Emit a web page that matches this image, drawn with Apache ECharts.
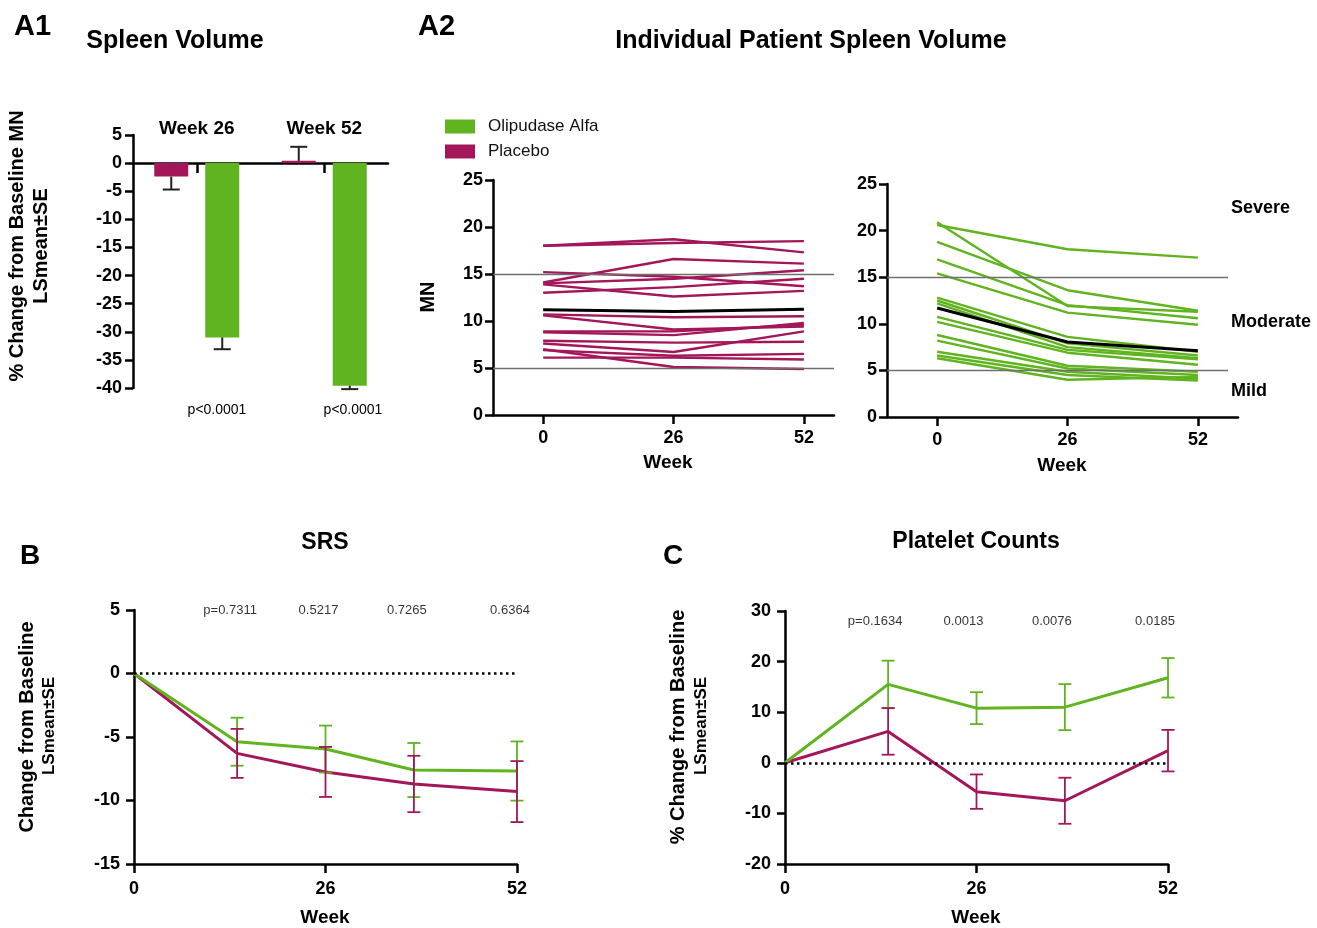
<!DOCTYPE html>
<html><head><meta charset="utf-8">
<script src="https://cdn.jsdelivr.net/npm/echarts@6/dist/echarts.min.js"></script>
<style>html,body{margin:0;padding:0;background:#fff}#c{width:1317px;height:928px}</style>
</head><body><div id="c"></div>
<script>
const FONT = "'Liberation Sans', Arial, Helvetica, sans-serif";
const GREEN = '#5FB41F', PLAC = '#A3175A';

// ---- A1: Spleen volume % change (LSmean, SE) ----
const a1Categories = ['Week 26', 'Week 52'];
const a1Placebo = [-2.4, 0.4];
const a1PlaceboSE = [2.3, 2.5];
const a1Olipudase = [-31.0, -39.6];
const a1OlipudaseSE = [2.1, 0.6];
const a1PValues = ['p<0.0001', 'p<0.0001'];

// ---- A2: individual patient spleen volume (MN) ----
const mnWeeks = [0, 26, 52];
const mnPlacebo = [
  [18.0, 18.7, 17.3],
  [18.0, 18.3, 18.5],
  [14.1, 16.6, 16.1],
  [15.2, 14.7, 13.7],
  [14.0, 14.5, 15.4],
  [13.9, 12.6, 13.2],
  [13.0, 13.6, 14.5],
  [10.7, 10.4, 10.5],
  [10.6, 9.1, 9.4],
  [8.9, 8.9, 9.6],
  [8.8, 8.5, 9.8],
  [7.9, 7.7, 7.8],
  [7.6, 6.7, 8.9],
  [7.0, 5.1, 4.9],
  [6.9, 6.3, 6.5],
  [6.1, 6.1, 5.9]
];
const mnPlaceboMean = [11.2, 11.0, 11.25];
const mnOlipudase = [
  [20.6, 18.0, 17.1],
  [20.9, 11.9, 11.3],
  [18.8, 13.6, 11.4],
  [16.9, 12.0, 10.6],
  [15.4, 11.2, 9.9],
  [12.8, 8.6, 7.0],
  [12.5, 7.9, 6.6],
  [12.2, 7.5, 6.3],
  [10.75, 7.2, 6.2],
  [10.2, 6.9, 5.6],
  [8.8, 5.5, 4.85],
  [8.2, 5.2, 4.5],
  [7.0, 4.85, 4.1],
  [6.6, 4.5, 3.9],
  [6.3, 4.0, 4.3]
];
const mnOlipudaseMean = [11.7, 8.05, 7.1];
const mnThresholds = [5, 15];
const mnSeverity = ['Severe', 'Moderate', 'Mild'];

// ---- B: SRS ----
const visitWeeks = [0, 14, 26, 38, 52];
const srsOlipudase = [0, -5.37, -5.95, -7.6, -7.68];
const srsOlipudaseSE = [0, 1.89, 1.85, 2.13, 2.33];
const srsPlacebo = [0, -6.29, -7.75, -8.7, -9.3];
const srsPlaceboSE = [0, 1.93, 1.97, 2.22, 2.4];
const srsP = ['', 'p=0.7311', '0.5217', '0.7265', '0.6364'];

// ---- C: Platelet counts ----
const pltOlipudase = [0, 15.5, 10.8, 11.0, 16.8];
const pltOlipudaseSE = [0, 4.68, 3.15, 4.55, 3.9];
const pltPlacebo = [0, 6.2, -5.7, -7.5, 2.4];
const pltPlaceboSE = [0, 4.6, 3.4, 4.55, 4.1];
const pltP = ['', 'p=0.1634', '0.0013', '0.0076', '0.0185'];

// ---------- helpers ----------
const AX = {color: '#000', width: 2.5};
function yAx(grid, min, max, interval, margin) {
  return {
    type: 'value', gridIndex: grid, min, max, interval,
    axisLine: {show: true, onZero: false, lineStyle: AX},
    axisTick: {show: true, length: 8, lineStyle: AX},
    axisLabel: {color: '#000', fontWeight: 'bold', fontSize: 18, fontFamily: FONT, margin: margin},
    splitLine: {show: false}
  };
}
function xVal(grid, min, max, ticks) {
  return {
    type: 'value', gridIndex: grid, min, max,
    axisLine: {show: true, onZero: false, lineStyle: AX},
    axisTick: {show: true, length: 9, lineStyle: AX, customValues: ticks},
    axisLabel: {color: '#000', fontWeight: 'bold', fontSize: 18, fontFamily: FONT, margin: 14, customValues: ticks},
    splitLine: {show: false}
  };
}
function errSeries(xi, yi, pts, color, capW, lw, dx, away) {
  return {
    type: 'custom', xAxisIndex: xi, yAxisIndex: yi, silent: true, z: 5, clip: false,
    data: pts,
    renderItem(params, api) {
      const x = api.value(0), m = api.value(1), se = api.value(2);
      const a = away ? m : m - se;
      const b = away ? m + (m < 0 ? -se : se) : m + se;
      const p1 = api.coord([x, a]), p2 = api.coord([x, b]);
      const cx = p1[0] + dx;
      const st = {stroke: color, lineWidth: lw};
      const ch = [{type: 'line', shape: {x1: cx, y1: p1[1], x2: cx, y2: p2[1]}, style: st}];
      ch.push({type: 'line', shape: {x1: cx - capW / 2, y1: p2[1], x2: cx + capW / 2, y2: p2[1]}, style: st});
      if (!away) ch.push({type: 'line', shape: {x1: cx - capW / 2, y1: p1[1], x2: cx + capW / 2, y2: p1[1]}, style: st});
      return {type: 'group', children: ch};
    }
  };
}
function T(text, x, y, size, opt) {
  opt = opt || {};
  const al = opt.align || 'center';
  return {
    type: 'text', x, y, rotation: opt.rot ? Math.PI / 2 : 0, silent: true, z: 10,
    style: {text, fill: '#000', font: (opt.normal ? 'normal ' : 'bold ') + size + 'px ' + FONT,
      textAlign: al, textVerticalAlign: 'middle', align: al, verticalAlign: 'middle'}
  };
}
const pairs = (xs, ys) => xs.map((x, i) => [x, ys[i]]);

// ---------- series ----------
const series = [];
// A1 bars
series.push({type: 'bar', name: 'Placebo', xAxisIndex: 0, yAxisIndex: 0, data: a1Placebo,
  barWidth: 34, barGap: '50%', itemStyle: {color: PLAC}, color: PLAC, silent: true});
series.push({type: 'bar', name: 'Olipudase Alfa', xAxisIndex: 0, yAxisIndex: 0, data: a1Olipudase,
  barWidth: 34, barGap: '50%', itemStyle: {color: GREEN}, color: GREEN, silent: true});
series.push(errSeries(0, 0, a1Categories.map((c, i) => [c, a1Placebo[i], a1PlaceboSE[i]]), '#222', 17, 2, -25.5, true));
series.push(errSeries(0, 0, a1Categories.map((c, i) => [c, a1Olipudase[i], a1OlipudaseSE[i]]), '#222', 17, 2, 25.5, true));

// A2 threshold lines
function thresholdLines(xi, yi, xMin, xMax) {
  return {type: 'line', xAxisIndex: xi, yAxisIndex: yi, data: [], silent: true,
    markLine: {silent: true, symbol: 'none', label: {show: false}, animation: false,
      lineStyle: {color: '#6f6f6f', width: 1.3, type: 'solid'},
      data: mnThresholds.map(t => [{coord: [xMin, t]}, {coord: [xMax, t]}])}};
}
series.push(thresholdLines(2, 1, -10, 58));
series.push(thresholdLines(3, 2, -10, 58));
mnPlacebo.forEach(p => series.push({type: 'line', name: 'Placebo', xAxisIndex: 2, yAxisIndex: 1,
  data: pairs(mnWeeks, p), symbol: 'none', color: PLAC, lineStyle: {color: PLAC, width: 2.4}, silent: true, z: 3}));
series.push({type: 'line', name: 'Mean placebo', xAxisIndex: 2, yAxisIndex: 1, data: pairs(mnWeeks, mnPlaceboMean),
  symbol: 'none', lineStyle: {color: '#000', width: 3}, silent: true, z: 4});
mnOlipudase.forEach(p => series.push({type: 'line', name: 'Olipudase Alfa', xAxisIndex: 3, yAxisIndex: 2,
  data: pairs(mnWeeks, p), symbol: 'none', color: GREEN, lineStyle: {color: GREEN, width: 2.4}, silent: true, z: 3}));
series.push({type: 'line', name: 'Mean olipudase', xAxisIndex: 3, yAxisIndex: 2, data: pairs(mnWeeks, mnOlipudaseMean),
  symbol: 'none', lineStyle: {color: '#000', width: 3}, silent: true, z: 4});

// B and C
function trendPanel(xi, yi, olip, olipSE, plac, placSE, pv, yTop, pOffset) {
  series.push({type: 'line', name: 'Placebo', xAxisIndex: xi, yAxisIndex: yi, data: pairs(visitWeeks, plac),
    symbol: 'none', color: PLAC, lineStyle: {color: PLAC, width: 3}, silent: true, z: 3,
    markLine: {silent: true, symbol: 'none', label: {show: false}, animation: false,
      lineStyle: {color: '#000', width: 2.5, type: [2.5, 3.5]}, data: [{yAxis: 0}]}});
  series.push({type: 'line', name: 'Olipudase Alfa', xAxisIndex: xi, yAxisIndex: yi, data: pairs(visitWeeks, olip),
    symbol: 'none', color: GREEN, lineStyle: {color: GREEN, width: 3}, silent: true, z: 3});
  const e = (v, s) => visitWeeks.map((w, i) => [w, v[i], s[i]]).filter(d => d[2] > 0);
  series.push(errSeries(xi, yi, e(olip, olipSE), GREEN, 13, 1.8, 0, false));
  series.push(errSeries(xi, yi, e(plac, placSE), PLAC, 13, 1.8, 0, false));
  series.push({type: 'scatter', xAxisIndex: xi, yAxisIndex: yi, symbolSize: 0, silent: true,
    data: visitWeeks.map((w, i) => [w, yTop, pv[i]]).filter(d => d[2]),
    label: {show: true, position: 'inside', offset: pOffset, formatter: p => p.value[2],
      color: '#000', fontSize: 13, fontFamily: FONT}});
}
trendPanel(4, 3, srsOlipudase, srsOlipudaseSE, srsPlacebo, srsPlaceboSE, srsP, 5, [-7, 0]);
trendPanel(5, 4, pltOlipudase, pltOlipudaseSE, pltPlacebo, pltPlaceboSE, pltP, 30, [-13, 10]);

const option = {
  animation: false,
  backgroundColor: '#fff',
  textStyle: {fontFamily: FONT},
  grid: [
    {left: 133, top: 135, width: 255, height: 253},
    {left: 493, top: 180, width: 341, height: 235},
    {left: 887, top: 184, width: 351, height: 233},
    {left: 134, top: 610, width: 383, height: 254},
    {left: 785, top: 611, width: 383, height: 253}
  ],
  legend: {left: 445, top: 118, padding: 0, orient: 'vertical', itemWidth: 30, itemHeight: 14, itemGap: 8,
    selectedMode: false,
    data: [{name: 'Olipudase Alfa', icon: 'rect'}, {name: 'Placebo', icon: 'rect'}],
    textStyle: {fontSize: 17, color: '#111', fontFamily: FONT, padding: [0, 0, 0, 8]}},
  xAxis: [
    {type: 'category', gridIndex: 0, data: a1Categories,
      axisLine: {show: true, onZero: true, lineStyle: AX},
      axisTick: {show: true, alignWithLabel: true, length: 10, lineStyle: AX},
      axisLabel: {show: false}, splitLine: {show: false}},
    {type: 'category', gridIndex: 0, position: 'top', data: a1Categories,
      axisLine: {show: false, onZero: false}, axisTick: {show: false},
      axisLabel: {color: '#000', fontWeight: 'bold', fontSize: 19, fontFamily: FONT, margin: -3}},
    xVal(1, -10, 58, mnWeeks),
    xVal(2, -10, 60, mnWeeks),
    Object.assign(xVal(3, 0, 52, null), {interval: 26, axisTick: {show: true, length: 9, lineStyle: AX},
      axisLabel: {color: '#000', fontWeight: 'bold', fontSize: 18, fontFamily: FONT, margin: 16}}),
    Object.assign(xVal(4, 0, 52, null), {interval: 26, axisTick: {show: true, length: 9, lineStyle: AX},
      axisLabel: {color: '#000', fontWeight: 'bold', fontSize: 18, fontFamily: FONT, margin: 16}})
  ],
  yAxis: [
    yAx(0, -40, 5, 5, 11),
    yAx(1, 0, 25, 5, 10),
    yAx(2, 0, 25, 5, 10),
    yAx(3, -15, 5, 5, 14),
    yAx(4, -20, 30, 10, 14)
  ],
  series,
  graphic: [
    T('A1', 14, 27, 29, {align: 'left'}),
    T('Spleen Volume', 175, 41, 25),
    T('A2', 418, 27, 29, {align: 'left'}),
    T('Individual Patient Spleen Volume', 811, 41, 25),
    T('B', 20, 556, 28, {align: 'left'}),
    T('SRS', 325, 543, 23),
    T('C', 663, 556, 28, {align: 'left'}),
    T('Platelet Counts', 976, 542, 23),
    T('% Change from Baseline MN', 17, 246, 20, {rot: 1}),
    T('LSmean±SE', 41, 246, 20, {rot: 1}),
    T('MN', 428, 297, 20, {rot: 1}),
    T('Change from Baseline', 27, 727, 20, {rot: 1}),
    T('LSmean±SE', 49, 726, 17, {rot: 1}),
    T('% Change from Baseline', 678, 727, 20, {rot: 1}),
    T('LSmean±SE', 701, 726, 17, {rot: 1}),
    T('Week', 668, 463, 19),
    T('Week', 1062, 466, 19),
    T('Week', 325, 918, 19),
    T('Week', 976, 918, 19),
    T(mnSeverity[0], 1231, 208, 18, {align: 'left'}),
    T(mnSeverity[1], 1231, 322, 18, {align: 'left'}),
    T(mnSeverity[2], 1231, 391, 18, {align: 'left'}),
    T(a1PValues[0], 217, 410, 14, {normal: 1}),
    T(a1PValues[1], 353, 410, 14, {normal: 1})
  ]
};
const chart = echarts.init(document.getElementById('c'), null, {renderer: 'canvas'});
chart.setOption(option);
</script>
</body></html>
